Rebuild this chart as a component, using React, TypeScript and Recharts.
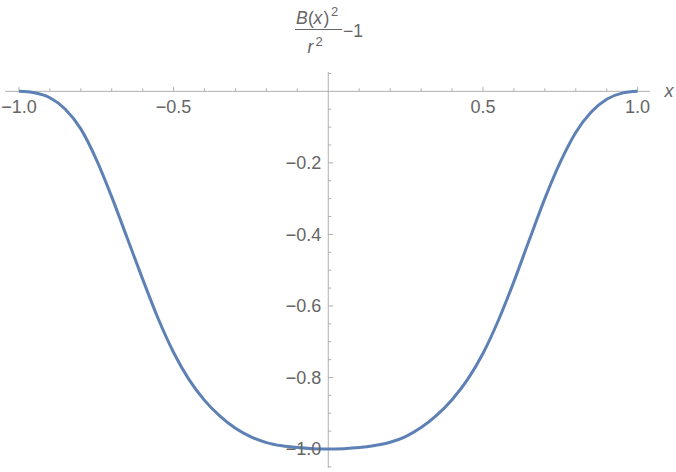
import { LineChart, Line, XAxis, YAxis, ReferenceLine, ReferenceDot } from 'recharts';

// curve, x every 0.05
const xValues = [
  -1, -0.95, -0.9, -0.85, -0.8, -0.75, -0.7, -0.65, -0.6, -0.55, -0.5,
  -0.45, -0.4, -0.35, -0.3, -0.25, -0.2, -0.15, -0.1, -0.05, 0,
  0.05, 0.1, 0.15, 0.2, 0.25, 0.3, 0.35, 0.4, 0.45, 0.5,
  0.55, 0.6, 0.65, 0.7, 0.75, 0.8, 0.85, 0.9, 0.95, 1,
];
const yValues = [
  0, -0.004, -0.018, -0.05, -0.105, -0.19, -0.295, -0.41, -0.525, -0.635, -0.73,
  -0.806, -0.864, -0.908, -0.942, -0.966, -0.982, -0.991, -0.996, -0.999, -1,
  -0.999, -0.996, -0.99, -0.981, -0.965, -0.94, -0.906, -0.862, -0.806, -0.733,
  -0.64, -0.532, -0.415, -0.3, -0.198, -0.115, -0.058, -0.022, -0.005, 0,
];

const xMajorTicks = [-1, -0.5, 0.5, 1];
const xTickLabels = ['\u22121.0', '\u22120.5', '0.5', '1.0'];
const xMinorTicks = [-0.9, -0.8, -0.7, -0.6, -0.4, -0.3, -0.2, -0.1, 0.1, 0.2, 0.3, 0.4, 0.6, 0.7, 0.8, 0.9];

const yMajorTicks = [-0.2, -0.4, -0.6, -0.8, -1];
const yTickLabels = ['\u22120.2', '\u22120.4', '\u22120.6', '\u22120.8', '\u22121.0'];
const yMinorTicks = [
  0.05, -0.05, -0.1, -0.15, -0.25, -0.3, -0.35, -0.45, -0.5, -0.55,
  -0.65, -0.7, -0.75, -0.85, -0.9, -0.95, -1.05,
];

const data = xValues.map((x, i) => ({ x, y: yValues[i] }));

const AXIS = '#b0b0b0';
const LABEL = '#666666';
const FONT = '"Liberation Sans", Arial, sans-serif';

export default function App() {
  return (
    <div style={{ position: 'absolute', left: 0, top: 0, width: 676, height: 472, background: '#fff' }}>
      <LineChart
        width={676}
        height={472}
        data={data}
        margin={{ top: 72, right: 26, bottom: 4, left: 5 }}
        style={{ fontFamily: FONT }}
      >
        <XAxis type="number" dataKey="x" domain={[-1.045, 1.04]} allowDataOverflow hide />
        <YAxis type="number" domain={[-1.053, 0.054]} allowDataOverflow hide />

        <ReferenceLine y={0} stroke={AXIS} strokeWidth={1} />
        <ReferenceLine x={0} stroke={AXIS} strokeWidth={1} />

        {xMajorTicks.map((t) => (
          <ReferenceLine key={'xM' + t} segment={[{ x: t, y: 0 }, { x: t, y: 0.0126 }]} stroke={AXIS} />
        ))}
        {xMinorTicks.map((t) => (
          <ReferenceLine key={'xm' + t} segment={[{ x: t, y: 0 }, { x: t, y: 0.0084 }]} stroke={AXIS} />
        ))}
        {yMajorTicks.map((t) => (
          <ReferenceLine key={'yM' + t} segment={[{ x: 0, y: t }, { x: 0.0162, y: t }]} stroke={AXIS} />
        ))}
        {yMinorTicks.map((t) => (
          <ReferenceLine key={'ym' + t} segment={[{ x: 0, y: t }, { x: 0.0097, y: t }]} stroke={AXIS} />
        ))}

        {xMajorTicks.map((t, i) => (
          <ReferenceDot
            key={'xl' + t}
            x={t}
            y={0}
            r={0}
            fill="none"
            stroke="none"
            label={{ value: xTickLabels[i], position: 'bottom', offset: 9, fill: LABEL, fontSize: 18, fontFamily: FONT }}
          />
        ))}
        {yMajorTicks.map((t, i) => (
          <ReferenceDot
            key={'yl' + t}
            x={0}
            y={t}
            r={0}
            fill="none"
            stroke="none"
            label={{ value: yTickLabels[i], position: 'left', offset: 7, fill: LABEL, fontSize: 18, fontFamily: FONT }}
          />
        ))}

        <Line
          type="monotone"
          dataKey="y"
          stroke="#5E81B5"
          strokeWidth={3}
          dot={false}
          isAnimationActive={false}
        />
      </LineChart>

      <svg
        width={676}
        height={472}
        style={{ position: 'absolute', left: 0, top: 0, pointerEvents: 'none', fontFamily: FONT }}
      >
        <g fill={LABEL} fontSize={17.5}>
          <text x={296} y={23.5} fontStyle="italic">B</text>
          <text x={308} y={23.5}>(</text>
          <text x={313.5} y={23.5} fontStyle="italic">x</text>
          <text x={323.5} y={23.5}>)</text>
          <text x={331} y={15.5} fontSize={13}>2</text>
          <line x1={295} x2={342} y1={29.5} y2={29.5} stroke={LABEL} strokeWidth={1} />
          <text x={307.5} y={53} fontStyle="italic">r</text>
          <text x={315.5} y={45.5} fontSize={13}>2</text>
          <text x={343} y={36.5}>{'\u22121'}</text>
          <text x={664.5} y={97} fontSize={18} fontStyle="italic">x</text>
        </g>
      </svg>
    </div>
  );
}
